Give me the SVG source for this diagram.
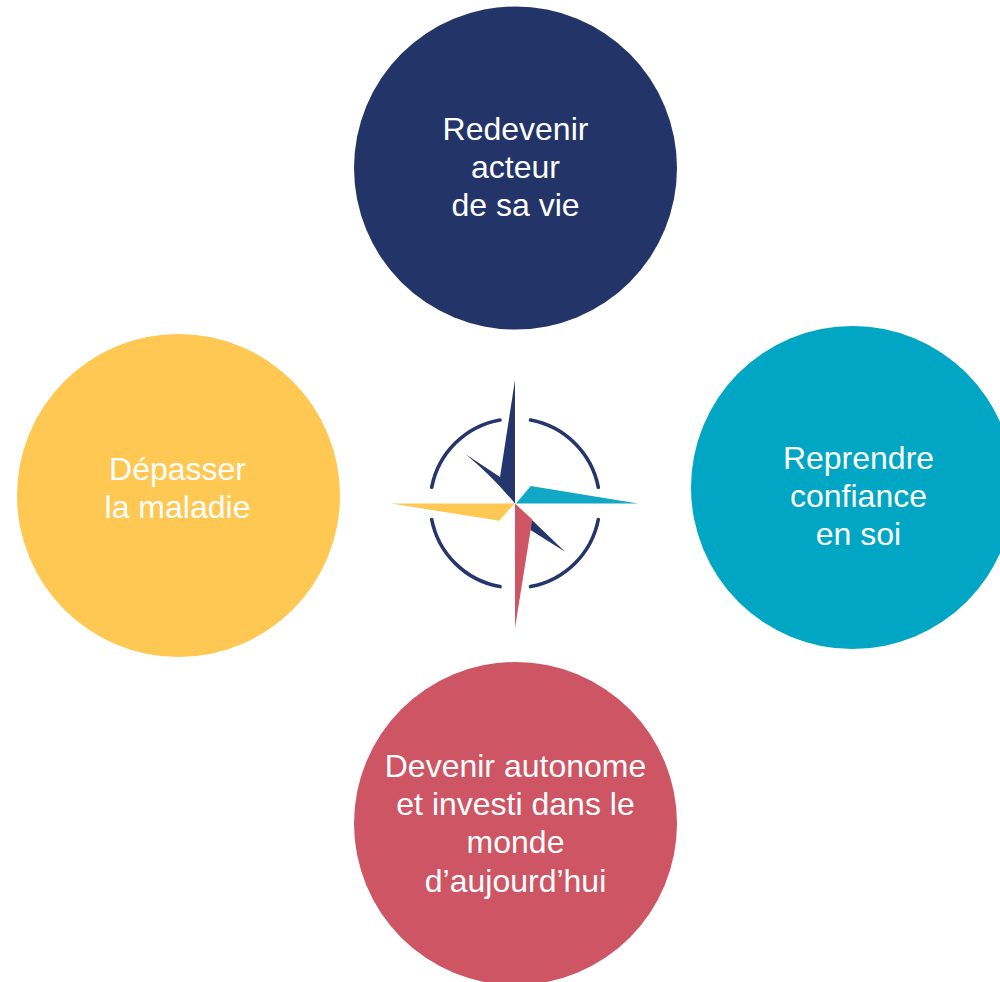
<svg xmlns="http://www.w3.org/2000/svg" width="1000" height="982" viewBox="0 0 1000 982">
<style>
.t{font-family:"Liberation Sans",Arial,sans-serif;font-size:32px;fill:#fff;text-anchor:middle}
.a{fill:none;stroke:#24366b;stroke-width:3.6;stroke-linecap:round}
</style>
<rect width="1000" height="982" fill="#fff"/>
<g id="node-top"><circle cx="515.500" cy="168" r="161.500" fill="#233568"/>
<text class="t" x="515.500" y="140">Redevenir</text><text class="t" x="515.500" y="178">acteur</text><text class="t" x="515.500" y="216">de sa vie</text></g>
<g id="node-right"><circle cx="852.500" cy="487.500" r="161.500" fill="#00a6c3"/>
<text class="t" x="858.500" y="469">Reprendre</text><text class="t" x="858.500" y="507">confiance</text><text class="t" x="858.500" y="545">en soi</text></g>
<g id="node-left"><circle cx="178.500" cy="495.500" r="161.500" fill="#fec853"/>
<text class="t" x="177.500" y="480">Dépasser</text><text class="t" x="177.500" y="518">la maladie</text></g>
<g id="node-bottom"><circle cx="515.500" cy="823.500" r="161.500" fill="#cd5564"/>
<text class="t" x="515.500" y="777">Devenir autonome</text><text class="t" x="515.500" y="815">et investi dans le</text><text class="t" x="515.500" y="853">monde</text><text class="t" x="515.500" y="892">d’aujourd’hui</text></g>
<g id="compass">
<path class="a" d="M500 420A84.700 84.700 0 0 0 431.700 487.300"/>
<path class="a" d="M530.500 420A84.700 84.700 0 0 1 598.300 487.300"/>
<path class="a" d="M431.700 519.500A84.700 84.700 0 0 0 500 586.600"/>
<path class="a" d="M598.300 519.500A84.700 84.700 0 0 1 530.500 586.600"/>
<path fill="#24366b" d="M515 380V503.500Q492 476 465.700 454.300L500 477Z"/>
<path fill="#24366b" d="M531.500 519.500L565 551.700L530.500 530Z"/>
<path fill="#10a8c4" d="M516 503.500L530.700 486L638 503.500Z"/>
<path fill="#fec853" d="M391 503.500H514.500L499.300 520.800Z"/>
<path fill="#cd5564" d="M515 503.500L532.300 519.500L515 628Z"/>
</g>
</svg>
